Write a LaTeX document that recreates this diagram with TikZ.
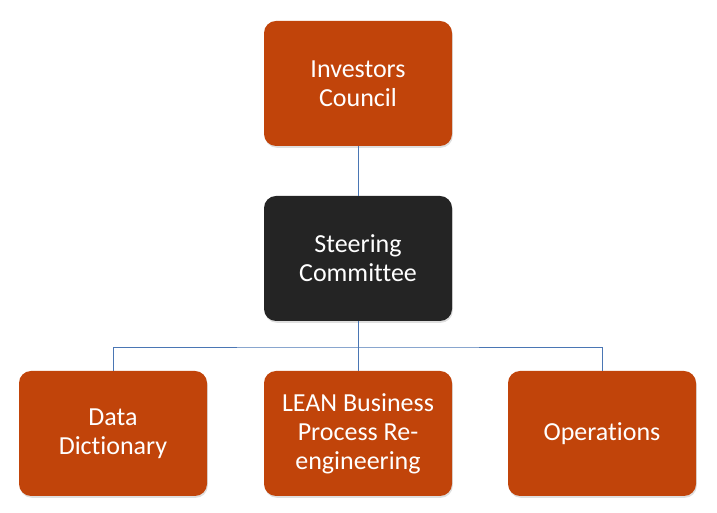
\documentclass[tikz,border=0pt]{standalone}
\usepackage{fontspec}
\setmainfont{Carlito}[Ligatures=NoCommon]
\usetikzlibrary{shadows}
\definecolor{boxorange}{HTML}{C1440A}
\definecolor{boxdark}{HTML}{242424}
\definecolor{linkblue}{HTML}{4A76B4}
\tikzset{
  orgbox/.style={rectangle, rounded corners=12pt, minimum width=188pt, minimum height=125pt,
    align=center, text=white, inner sep=0pt,
    font=\fontsize{26}{29}\selectfont,
    drop shadow={opacity=0.25, shadow xshift=0.8pt, shadow yshift=-1.8pt}},
  orangebox/.style={orgbox, fill=boxorange},
  darkbox/.style={orgbox, fill=boxdark},
  link/.style={draw=linkblue, line width=0.9pt}
}
\begin{document}
\begin{tikzpicture}[x=1pt,y=1pt]
\useasboundingbox (0,0) rectangle (717,513);
\node[orangebox] (inv) at (358,429.5) {Investors\\Council};
\node[darkbox] (steer) at (358,254.5) {Steering\\Committee};
\node[orangebox] (data) at (113,79.5) {Data\\Dictionary};
\node[orangebox] (lean) at (358,79.5) {LEAN Business\\Process Re-\\engineering};
\node[orangebox] (ops) at (602,79.5) {Operations};
\coordinate (bus) at (358,166);
\draw[link] (inv.south) -- (steer.north);
\draw[link] (steer.south) -- (lean.north);
\draw[link] (data.north) |- (bus) -| (ops.north);
\end{tikzpicture}
\end{document}
